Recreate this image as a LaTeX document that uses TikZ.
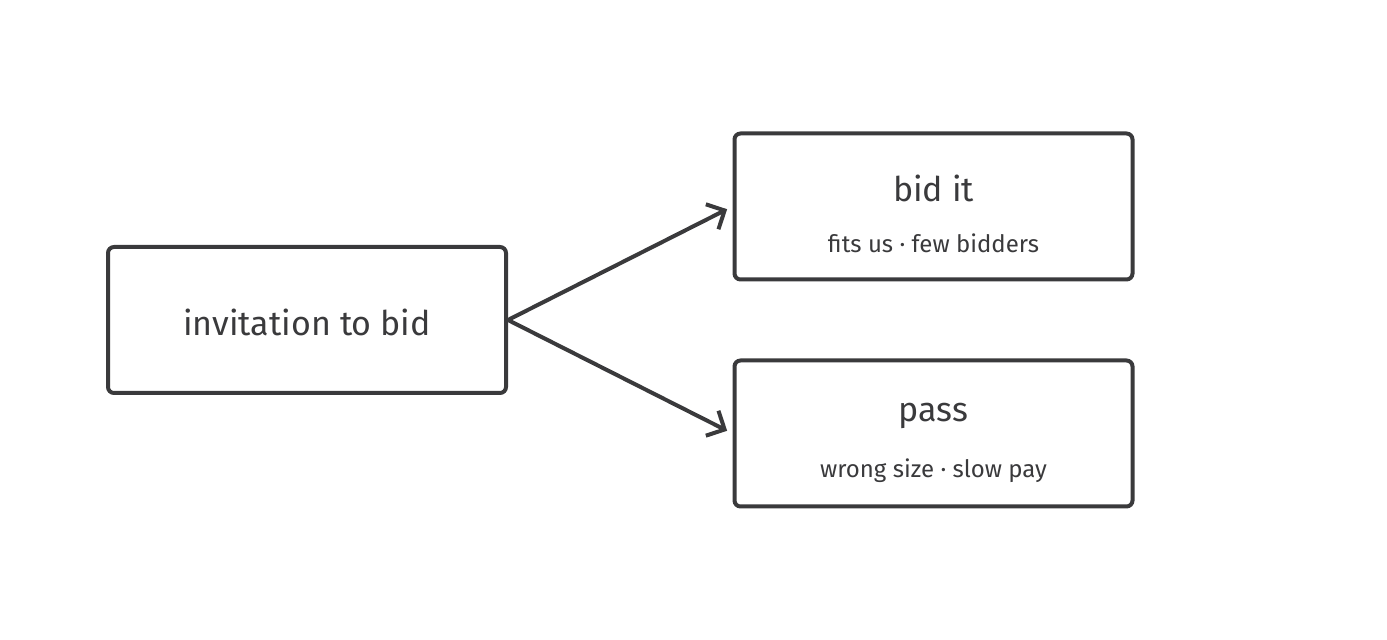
\documentclass[tikz,border=0pt]{standalone}
\usepackage{fontspec}
\setmainfont{Fira Sans}
\usetikzlibrary{positioning,arrows.meta}
\definecolor{ink}{HTML}{3A3A3C}
\tikzset{
  card/.style = {draw=ink, line width=2pt, rounded corners=3pt, fill=white,
                 minimum width=199pt, minimum height=73pt, inner sep=0pt},
  title/.style = {text=ink, font=\fontsize{17}{20}\selectfont},
  note/.style = {text=ink, font=\fontsize{12}{14}\selectfont},
  flow/.style = {draw=ink, line width=2pt, shorten >=3pt,
                 -{Straight Barb[length=7pt,width=14pt,line width=2pt]}}
}
\begin{document}
\begin{tikzpicture}[x=0.5pt, y=-0.5pt]
  \useasboundingbox (0,0) rectangle (1387,640);
  % boxes
  \node[card] (invite) at (307,320) {};
  \node[card] (bid) at (933.5,206.5) {};
  \node[card] (pass) at (933.5,433.5) {};
  % texts
  \node[title] (invitetxt) at (307,322) {invitation to bid};
  \node[title] (bidtxt) at (933.5,188) {bid it};
  \node[note] (bidnote) at (933.5,243) {fits us · few bidders};
  \node[title] (passtxt) at (933.5,416) {pass};
  \node[note] (passnote) at (933.5,471) {wrong size · slow pay};
  % arrows
  \draw[flow] (invite.east) -- (bid.west);
  \draw[flow] (invite.east) -- (pass.west);
\end{tikzpicture}
\end{document}
